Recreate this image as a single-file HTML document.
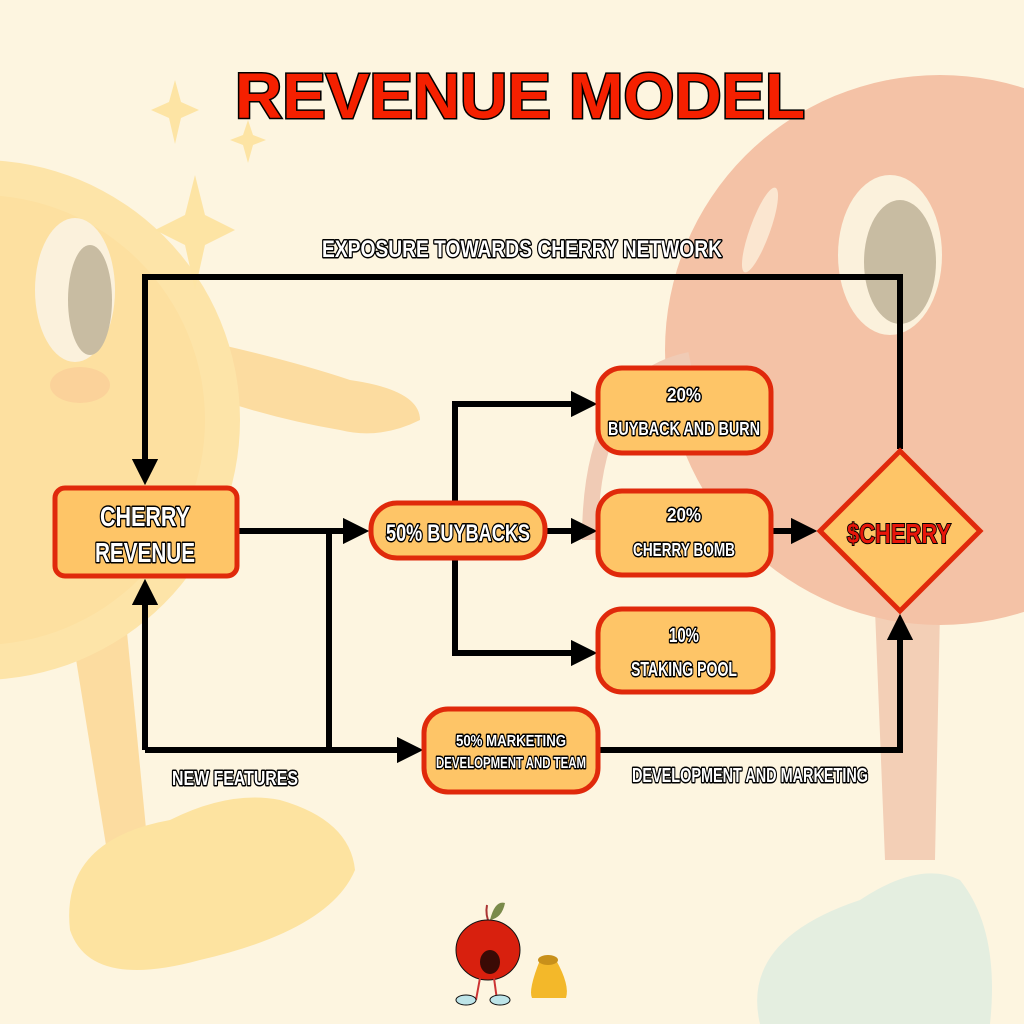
<!DOCTYPE html>
<html><head><meta charset="utf-8"><style>
html,body{margin:0;padding:0;background:#fdf5e0}
svg{display:block}
.lb{font-family:"Liberation Sans",sans-serif;font-weight:bold;fill:#fff;stroke:#000;stroke-width:3;paint-order:stroke;stroke-linejoin:round}
.nt{font-family:"Liberation Sans",sans-serif;font-weight:bold;fill:#fff;stroke:#000;stroke-width:3;paint-order:stroke;stroke-linejoin:round;text-anchor:middle}
</style></head><body>
<svg width="1024" height="1024" viewBox="0 0 1024 1024" xmlns="http://www.w3.org/2000/svg">
<defs>
<marker id="ah" markerWidth="4.4" markerHeight="4.4" refX="2.2" refY="2.2" orient="auto" markerUnits="strokeWidth">
<path d="M0,0 L4.4,2.2 L0,4.4 z" fill="#000"/></marker>
</defs>
<rect width="1024" height="1024" fill="#fdf5e0"/>
<!-- yellow character -->
<path d="M60,560 L110,870 L150,870 L120,560 z" fill="#fcdca0"/>
<path d="M70,930 Q60,840 170,820 Q230,790 280,800 Q350,820 355,870 Q330,930 200,960 Q90,990 70,930 z" fill="#fde3a0"/>
<path d="M200,340 Q290,360 350,380 Q420,390 420,420 Q380,440 340,430 Q280,420 220,400 z" fill="#fcdca0"/>
<circle cx="-20" cy="420" r="260" fill="#fde4a8"/>
<circle cx="-20" cy="420" r="225" fill="#fde0a0"/>
<ellipse cx="75" cy="290" rx="40" ry="72" fill="#fbf1dc"/>
<ellipse cx="90" cy="300" rx="22" ry="55" fill="#c8bca2"/>
<ellipse cx="80" cy="385" rx="30" ry="18" fill="#fbd29a"/>
<path d="M175,80 l6,22 l18,8 l-18,8 l-6,26 l-6,-26 l-18,-8 l18,-8z" fill="#fde4a4"/>
<path d="M248,120 l5,15 l13,5 l-13,5 l-5,18 l-5,-18 l-13,-5 l13,-5z" fill="#fde4a4"/>
<path d="M195,175 l10,40 l30,15 l-30,15 l-10,45 l-10,-45 l-30,-15 l30,-15z" fill="#fde4a4"/>
<!-- red character -->
<path d="M875,610 L885,860 L935,860 L940,610 z" fill="#f3cfb6"/>
<path d="M760,1024 Q740,940 860,900 Q920,860 960,880 Q1000,930 990,1024 z" fill="#e4eee0"/>
<circle cx="940" cy="350" r="275" fill="#f4c2a6"/>
<ellipse cx="890" cy="255" rx="52" ry="80" fill="#fbf1dc"/>
<ellipse cx="900" cy="262" rx="36" ry="62" fill="#c8bca2"/>
<ellipse cx="760" cy="230" rx="10" ry="45" fill="#fbe6d0" transform="rotate(20 760 230)"/>
<path d="M590,540 Q590,380 690,360" stroke="#f0cbb5" stroke-width="16" fill="none"/>
<!-- title -->
<text x="520" y="118" text-anchor="middle" textLength="570" lengthAdjust="spacingAndGlyphs" font-family="Liberation Sans,sans-serif" font-weight="bold" font-size="64" fill="#f52000" stroke="#000" stroke-width="3" paint-order="stroke">REVENUE MODEL</text>
<!-- connectors -->
<g stroke="#000" stroke-width="6" fill="none">
<path d="M900,449 L900,277 L145,277 L145,472" marker-end="url(#ah)"/>
<path d="M237,531 L356,531" marker-end="url(#ah)"/>
<path d="M329,531 L329,750"/>
<path d="M145,750 L145,592" marker-end="url(#ah)"/>
<path d="M145,750 L410,750" marker-end="url(#ah)"/>
<path d="M545,531 L584,531" marker-end="url(#ah)"/>
<path d="M455,558 L455,404 L584,404" marker-end="url(#ah)"/>
<path d="M455,558 L455,653 L584,653" marker-end="url(#ah)"/>
<path d="M771,531 L804,531" marker-end="url(#ah)"/>
<path d="M598,750 L900,750 L900,627" marker-end="url(#ah)"/>
</g>
<!-- nodes -->
<g fill="#fec567" stroke="#e0290b" stroke-width="5">
<rect x="55" y="488" width="182" height="88" rx="10"/>
<rect x="371" y="503" width="174" height="55" rx="26"/>
<rect x="598" y="368" width="173" height="85" rx="24"/>
<rect x="598" y="491" width="173" height="84" rx="24"/>
<rect x="598" y="609" width="175" height="83" rx="24"/>
<rect x="424" y="709" width="174" height="83" rx="24"/>
<path d="M900,451 L980,531 L900,611 L820,531 z"/>
</g>
<!-- node text -->
<text class="nt" x="145" y="526" font-size="28" textLength="90" lengthAdjust="spacingAndGlyphs">CHERRY</text>
<text class="nt" x="145" y="562" font-size="28" textLength="100" lengthAdjust="spacingAndGlyphs">REVENUE</text>
<text class="nt" x="458" y="541" font-size="24" textLength="144" lengthAdjust="spacingAndGlyphs">50% BUYBACKS</text>
<text class="nt" x="684" y="401" font-size="18" textLength="34" lengthAdjust="spacingAndGlyphs">20%</text>
<text class="nt" x="684" y="435" font-size="18" textLength="152" lengthAdjust="spacingAndGlyphs">BUYBACK AND BURN</text>
<text class="nt" x="684" y="521" font-size="18" textLength="34" lengthAdjust="spacingAndGlyphs">20%</text>
<text class="nt" x="684" y="556" font-size="18" textLength="102" lengthAdjust="spacingAndGlyphs">CHERRY BOMB</text>
<text class="nt" x="684" y="642" font-size="20" textLength="30" lengthAdjust="spacingAndGlyphs">10%</text>
<text class="nt" x="684" y="676" font-size="20" textLength="106" lengthAdjust="spacingAndGlyphs">STAKING POOL</text>
<text class="nt" x="511" y="746" font-size="16" textLength="110" lengthAdjust="spacingAndGlyphs">50% MARKETING</text>
<text class="nt" x="511" y="768" font-size="16" textLength="150" lengthAdjust="spacingAndGlyphs">DEVELOPMENT AND TEAM</text>
<text x="899" y="543" text-anchor="middle" font-size="28" textLength="104" lengthAdjust="spacingAndGlyphs" font-family="Liberation Sans,sans-serif" font-weight="bold" fill="#e8160a" stroke="#000" stroke-width="2" paint-order="stroke">$CHERRY</text>
<!-- labels -->
<text class="lb" x="322" y="257" font-size="24" textLength="400" lengthAdjust="spacingAndGlyphs">EXPOSURE TOWARDS CHERRY NETWORK</text>
<text class="lb" x="172" y="785" font-size="20" textLength="126" lengthAdjust="spacingAndGlyphs">NEW FEATURES</text>
<text class="lb" x="632" y="782" font-size="20" textLength="236" lengthAdjust="spacingAndGlyphs">DEVELOPMENT AND MARKETING</text>
<!-- small mascots -->
<g>
<path d="M487,905 Q485,915 490,925" stroke="#a33" stroke-width="2" fill="none"/>
<path d="M490,920 Q495,900 505,903 Q502,918 490,920z" fill="#7a8a4a"/>
<ellipse cx="488" cy="950" rx="32" ry="30" fill="#d8200e" stroke="#111" stroke-width="1"/>
<ellipse cx="490" cy="962" rx="10" ry="12" fill="#3a0a05"/>
<line x1="480" y1="978" x2="476" y2="1000" stroke="#c33" stroke-width="2"/>
<line x1="494" y1="978" x2="497" y2="1000" stroke="#c33" stroke-width="2"/>
<ellipse cx="466" cy="1000" rx="10" ry="5" fill="#bde4e8" stroke="#111"/>
<ellipse cx="500" cy="1000" rx="10" ry="5" fill="#bde4e8" stroke="#111"/>
<path d="M540,960 Q528,990 532,998 L566,998 Q570,985 556,960z" fill="#f3b82a"/>
<ellipse cx="548" cy="960" rx="10" ry="5" fill="#c8901a"/>
</g>
</svg>
</body></html>
